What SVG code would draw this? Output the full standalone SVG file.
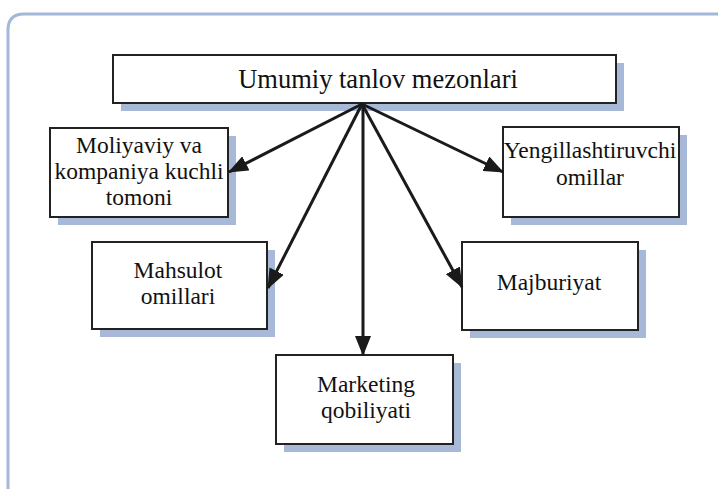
<svg xmlns="http://www.w3.org/2000/svg" width="718" height="489" viewBox="0 0 718 489">
<style>
.box{fill:#fff;stroke:#222;stroke-width:2}
.sh{fill:#A8B9D7}
text{font-family:'Liberation Serif','Times New Roman','DejaVu Serif',serif;font-size:23.5px;fill:#111;text-anchor:middle}
.tt{font-size:26.5px}
.c{stroke:#1a1a1a;stroke-width:3;fill:none}
</style>
<defs>
<marker id="ah" markerUnits="userSpaceOnUse" markerWidth="20" markerHeight="16" refX="19" refY="8" orient="auto">
<path d="M0,0 L20,8 L0,16 z" fill="#1a1a1a"/>
</marker>
</defs>
<rect width="718" height="489" fill="#fff"/>
<path d="M8,495 L8,30 Q8,14 24,14 L725,14" fill="none" stroke="#A3B7D8" stroke-width="3"/>
<g id="n-top">
<rect class="sh" x="121" y="63" width="503" height="48"/>
<rect class="box" x="113" y="55" width="503" height="48"/>
<text class="tt" x="378" y="88">Umumiy tanlov mezonlari</text>
</g>
<g id="n-moliya">
<rect class="sh" x="58" y="136" width="178" height="89"/>
<rect class="box" x="50" y="128" width="178" height="89"/>
<text x="139" y="153">Moliyaviy va</text>
<text x="139" y="179">kompaniya kuchli</text>
<text x="139" y="205">tomoni</text>
</g>
<g id="n-yengil">
<rect class="sh" x="511" y="135" width="176" height="90"/>
<rect class="box" x="503" y="127" width="176" height="90"/>
<text x="590" y="158">Yengillashtiruvchi</text>
<text x="590" y="185">omillar</text>
</g>
<g id="n-mahsulot">
<rect class="sh" x="100" y="250" width="175" height="87"/>
<rect class="box" x="92" y="242" width="175" height="87"/>
<text x="178" y="278">Mahsulot</text>
<text x="178" y="304">omillari</text>
</g>
<g id="n-majburiyat">
<rect class="sh" x="470" y="250" width="176" height="88"/>
<rect class="box" x="462" y="242" width="176" height="88"/>
<text x="549" y="290">Majburiyat</text>
</g>
<g id="n-marketing">
<rect class="sh" x="284" y="363" width="177" height="89"/>
<rect class="box" x="276" y="355" width="177" height="89"/>
<text x="366" y="392">Marketing</text>
<text x="366" y="418">qobiliyati</text>
</g>
<g id="connectors">
<line class="c" x1="362" y1="104" x2="229" y2="172" marker-end="url(#ah)"/>
<line class="c" x1="362" y1="104" x2="503" y2="172" marker-end="url(#ah)"/>
<line class="c" x1="362" y1="104" x2="268" y2="288" marker-end="url(#ah)"/>
<line class="c" x1="362" y1="104" x2="462" y2="287" marker-end="url(#ah)"/>
<line class="c" x1="363" y1="104" x2="363" y2="355" marker-end="url(#ah)"/>
</g>
</svg>
